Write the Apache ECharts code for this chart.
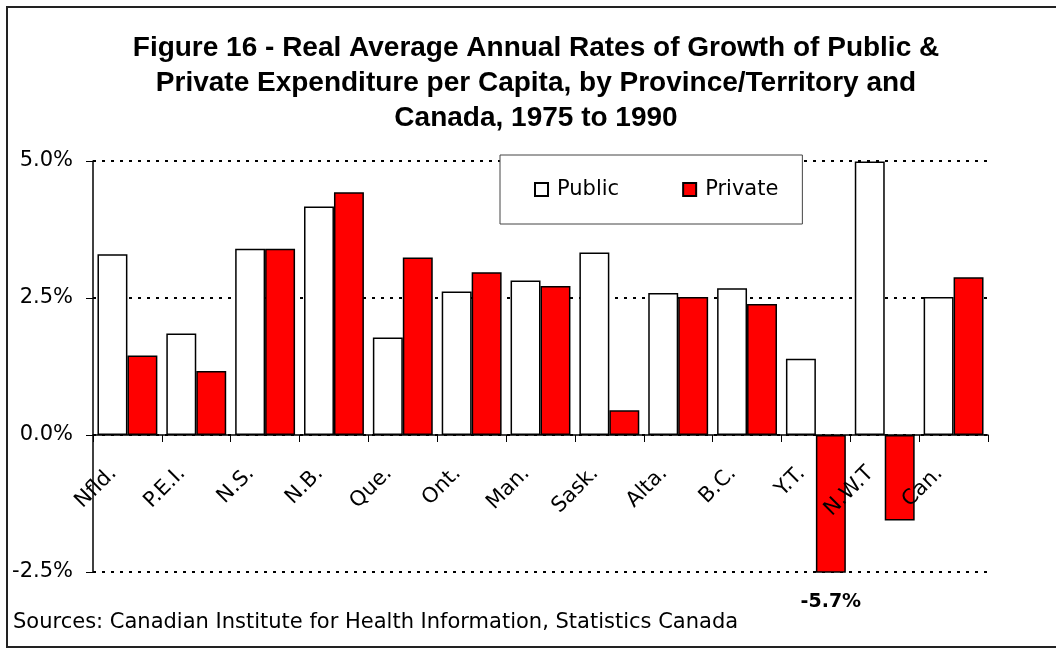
<!DOCTYPE html>
<html>
<head>
<meta charset="utf-8">
<script src="https://cdn.jsdelivr.net/npm/echarts@6/dist/echarts.min.js"></script>
<style>
  html, body { margin: 0; padding: 0; background: #fff; }
  #main { width: 1056px; height: 648px; }
</style>
</head>
<body>
<div id="main"></div>
<script>
// growth rates, in percent
const categories = ['Nfld.', 'P.E.I.', 'N.S.', 'N.B.', 'Que.', 'Ont.', 'Man.', 'Sask.', 'Alta.', 'B.C.', 'Y.T.', 'N.W.T', 'Can.'];
const publicValues = [3.30, 1.85, 3.40, 4.17, 1.78, 2.62, 2.82, 3.33, 2.59, 2.68, 1.39, 4.99, 2.52];
const privateValues = [1.45, 1.17, 3.40, 4.43, 3.24, 2.97, 2.72, 0.45, 2.52, 2.39, -5.7, -1.56, 2.88];
const yMin = -2.5;
const yMax = 5;
const yStep = 2.5;

const font = 'DejaVu Sans';
const gridTop = 161;
const gridBottom = 76;
const chartH = 648;
// the category axis sits on the zero line, so shift it up from the grid bottom
const plotH = chartH - gridTop - gridBottom;
const zeroShift = plotH * (0 - yMin) / (yMax - yMin);

const chart = echarts.init(document.getElementById('main'));

// bars running past the axis get their value written under the cut
const privateData = privateValues.map(v => {
  if (v < yMin) {
    return {
      value: v,
      label: {
        show: true,
        position: 'bottom',
        distance: 20,
        formatter: v.toFixed(1) + '%',
        fontFamily: font,
        fontWeight: 'bold',
        fontSize: 19,
        color: '#000'
      }
    };
  }
  return v;
});

const option = {
  animation: false,
  backgroundColor: '#fff',
  title: [
    {
      text: 'Figure 16 - Real Average Annual Rates of Growth of Public &\nPrivate Expenditure per Capita, by Province/Territory and\nCanada, 1975 to 1990',
      left: 536,
      textAlign: 'center',
      top: 31,
      padding: 0,
      textStyle: {
        fontFamily: 'Liberation Sans',
        fontWeight: 'bold',
        fontSize: 28,
        lineHeight: 35,
        color: '#000'
      }
    },
    {
      text: 'Sources: Canadian Institute for Health Information, Statistics Canada',
      left: 13,
      top: 612,
      padding: 0,
      textStyle: {
        fontFamily: font,
        fontWeight: 'normal',
        fontSize: 21,
        color: '#000'
      }
    }
  ],
  legend: {
    left: 500,
    top: 155,
    padding: [24, 24, 24, 34],
    itemGap: 63,
    itemWidth: 13,
    itemHeight: 13,
    icon: 'rect',
    backgroundColor: '#fff',
    borderColor: '#444',
    borderWidth: 1,
    textStyle: {
      fontFamily: font,
      fontSize: 21,
      color: '#000',
      padding: [0, 0, 0, 4]
    },
    data: ['Public', 'Private']
  },
  graphic: [
    {
      type: 'rect',
      silent: true,
      z: -1,
      shape: { x: 7, y: 7, width: 1100, height: 640 },
      style: { fill: 'none', stroke: '#222', lineWidth: 2 }
    }
  ],
  grid: {
    left: 93,
    right: 68,
    top: gridTop,
    bottom: gridBottom,
    outerBoundsMode: 'none'
  },
  xAxis: {
    type: 'category',
    data: categories,
    z: 5,
    offset: -zeroShift,
    axisLine: { onZero: false, lineStyle: { color: '#000', width: 1.5 } },
    axisTick: { show: true, length: 7, lineStyle: { color: '#000', width: 1 } },
    axisLabel: {
      interval: 0,
      rotate: 45,
      margin: 21,
      padding: [0, 20, 0, 0],
      fontFamily: font,
      fontSize: 21,
      color: '#000',
      hideOverlap: false
    },
    splitLine: { show: false }
  },
  yAxis: {
    type: 'value',
    min: yMin,
    max: yMax,
    interval: yStep,
    axisLine: { show: true, lineStyle: { color: '#000', width: 1.5 } },
    axisTick: { show: true, length: 7, lineStyle: { color: '#000', width: 1 } },
    axisLabel: {
      margin: 20,
      fontFamily: font,
      fontSize: 21,
      color: '#000',
      formatter: v => v.toFixed(1) + '%'
    },
    splitLine: {
      show: true,
      lineStyle: { color: '#000', width: 2, type: [3, 6] }
    }
  },
  series: [
    {
      name: 'Public',
      type: 'bar',
      data: publicValues,
      barGap: '0%',
      barCategoryGap: '13%',
      itemStyle: { color: '#fff', borderColor: '#000', borderWidth: 1.5 }
    },
    {
      name: 'Private',
      type: 'bar',
      data: privateData,
      clip: true,
      itemStyle: { color: '#ff0000', borderColor: '#000', borderWidth: 1.5 }
    }
  ]
};

chart.setOption(option);
</script>
</body>
</html>
